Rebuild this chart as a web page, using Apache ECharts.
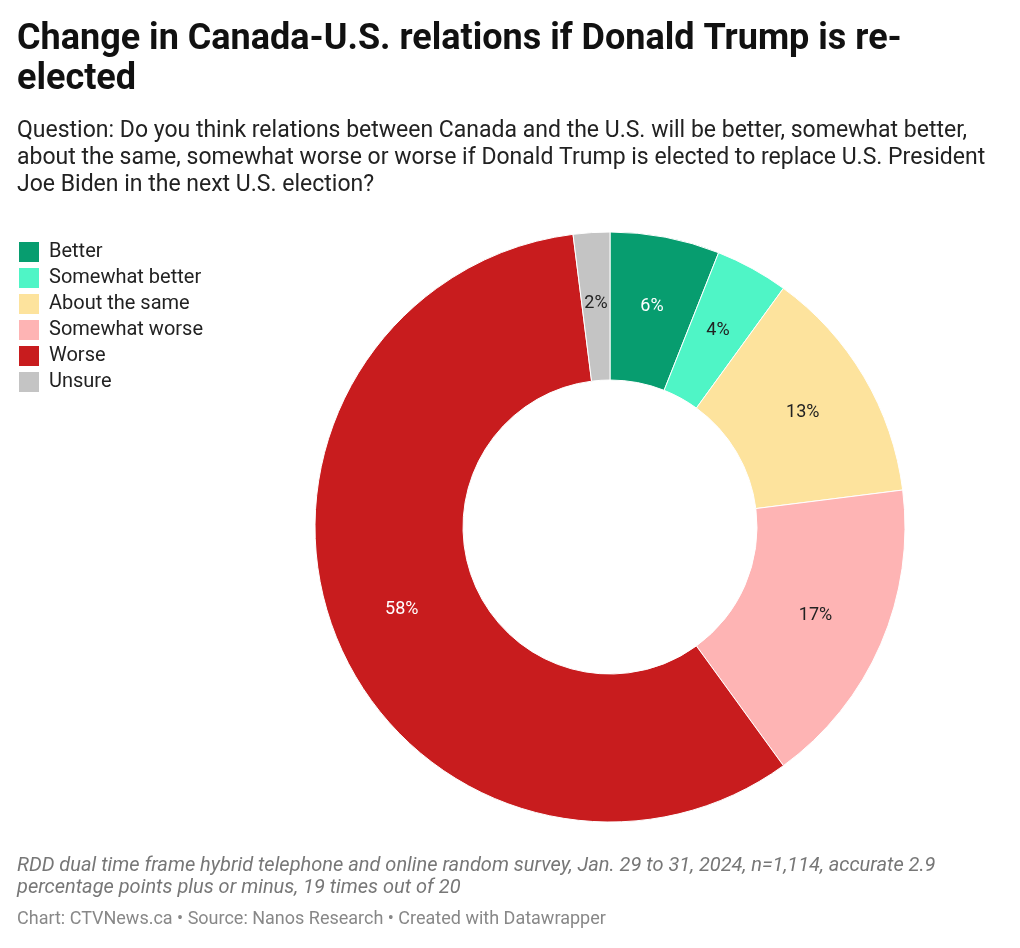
<!DOCTYPE html>
<html><head><meta charset="utf-8">
<script src="https://cdn.jsdelivr.net/npm/echarts@6/dist/echarts.min.js"></script>
<style>html,body{margin:0;padding:0;background:#fff}#c{width:1020px;height:948px}</style>
</head><body><div id="c"></div>
<script>
const categories = ["Better","Somewhat better","About the same","Somewhat worse","Worse","Unsure"];
const values = [6,4,13,17,58,2];
const colors = ["#079d6f","#4ff5c6","#fde39d","#feb4b4","#c81c1e","#c4c4c4"];
const labelColors = ["#ffffff","#222222","#222222","#222222","#ffffff","#222222"];
const titleText = "Change in Canada-U.S. relations if Donald Trump is re-\nelected";
const subtitleText = "Question: Do you think relations between Canada and the U.S. will be better, somewhat better,\nabout the same, somewhat worse or worse if Donald Trump is elected to replace U.S. President\nJoe Biden in the next U.S. election?";
const noteText = "RDD dual time frame hybrid telephone and online random survey, Jan. 29 to 31, 2024, n=1,114, accurate 2.9\npercentage points plus or minus, 19 times out of 20";
const sourceText = "Chart: CTVNews.ca • Source: Nanos Research • Created with Datawrapper";

const chart = echarts.init(document.getElementById('c'));
chart.setOption({
  backgroundColor:'#fff',
  animation:false,
  title:[
    {text:titleText,left:17,top:20,padding:0,textStyle:{fontFamily:'Roboto',fontWeight:'bold',fontSize:36,lineHeight:40,color:'#111'}},
    {text:subtitleText,left:17,top:118,padding:0,textStyle:{fontFamily:'Roboto',fontWeight:'normal',fontSize:23,lineHeight:27,color:'#222'}},
    {text:noteText,left:17,top:855,padding:0,textStyle:{fontFamily:'Roboto',fontStyle:'italic',fontWeight:'normal',fontSize:20,lineHeight:22,color:'#777'}},
    {text:sourceText,left:17,top:909,padding:0,textStyle:{fontFamily:'Roboto',fontWeight:'normal',fontSize:18,lineHeight:20,color:'#888'}}
  ],
  legend:{
    orient:'vertical',left:17,top:240,padding:0,itemWidth:22,itemHeight:22,itemGap:2,
    icon:'rect',
    textStyle:{fontFamily:'Roboto',fontSize:20,lineHeight:22,color:'#222',padding:[0,0,0,4]},
    data:categories
  },
  series:[{
    type:'pie',
    center:[610,527],
    radius:[147,295],
    startAngle:90,
    clockwise:true,
    avoidLabelOverlap:false,
    itemStyle:{borderColor:'#fff',borderWidth:1},
    label:{show:true,position:'inside',fontFamily:'Roboto',fontSize:18,
      formatter:p=>p.value+'%'},
    labelLine:{show:false},
    emphasis:{disabled:true},
    data:categories.map((c,i)=>({name:c,value:values[i],itemStyle:{color:colors[i]},label:{color:labelColors[i]}}))
  }]
});
</script></body></html>
